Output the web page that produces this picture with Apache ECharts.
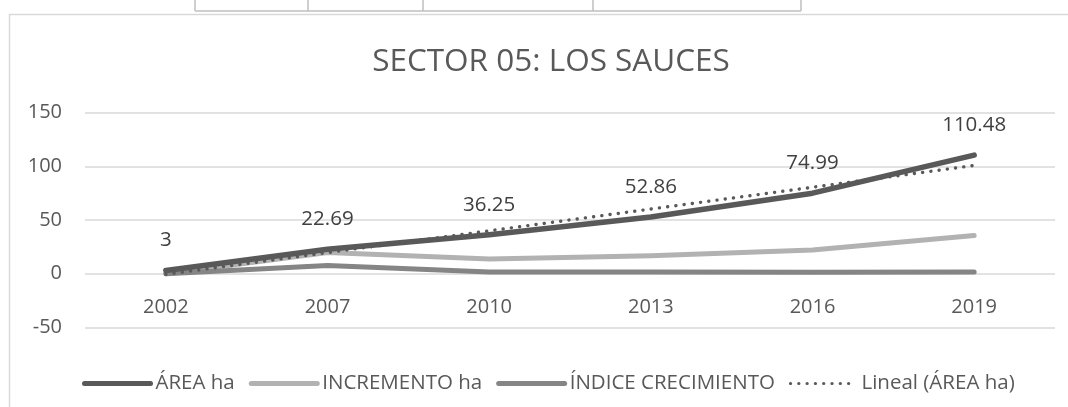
<!DOCTYPE html>
<html>
<head>
<meta charset="utf-8">
<script src="https://cdn.jsdelivr.net/npm/echarts@6/dist/echarts.min.js"></script>
<style>
html,body{margin:0;padding:0;background:#fff;}
#c{width:1068px;height:407px;}
</style>
</head>
<body>
<div id="c"></div>
<script>
const categories = ['2002', '2007', '2010', '2013', '2016', '2019'];
const areaHa = [3, 22.69, 36.25, 52.86, 74.99, 110.48];
const incrementoHa = [0, 19.69, 13.56, 16.61, 22.13, 35.49];
const indiceCrecimiento = [0, 7.56, 1.6, 1.46, 1.42, 1.47];
const linealArea = [-0.7, 19.6, 39.9, 60.2, 80.5, 100.8];
const seriesNames = ['ÁREA ha', 'INCREMENTO ha', 'ÍNDICE CRECIMIENTO', 'Lineal (ÁREA ha)'];
const yTicks = { min: -50, max: 150, interval: 50 };
const titleText = 'SECTOR 05: LOS SAUCES';

const FONT = 'Open Sans';
const chart = echarts.init(document.getElementById('c'));
const tableX = [195, 308, 423, 593, 801];
const graphics = [
  { type: 'rect', shape: { x: 9.5, y: 14.5, width: 1100, height: 450 }, style: { fill: 'none', stroke: '#d9d9d9', lineWidth: 1.5 }, silent: true },
  { type: 'line', shape: { x1: 195, y1: 11, x2: 801, y2: 11 }, style: { stroke: '#bfbfbf', lineWidth: 1.5 }, silent: true }
];
tableX.forEach(x => graphics.push({ type: 'line', shape: { x1: x, y1: 0, x2: x, y2: 11 }, style: { stroke: '#bfbfbf', lineWidth: 1.5 }, silent: true }));

const noSym = 'rgba(0,0,0,0)';
const solidLegend = { width: 5, cap: 'round' };
chart.setOption({
  animation: false,
  backgroundColor: '#fff',
  graphic: graphics,
  title: {
    text: titleText,
    left: 546, top: 41, textAlign: 'center',
    textStyle: { fontFamily: FONT, fontSize: 31.5, fontWeight: 'normal', color: '#595959' }
  },
  legend: {
    data: [
      { name: seriesNames[0], lineStyle: solidLegend },
      { name: seriesNames[1], lineStyle: solidLegend },
      { name: seriesNames[2], lineStyle: solidLegend },
      { name: seriesNames[3], lineStyle: { width: 3.2, cap: 'round', type: [0.1, 8.2] } }
    ],
    left: 77, top: 368,
    itemWidth: 66, itemHeight: 14, itemGap: 14,
    itemStyle: { color: noSym, borderWidth: 0 },
    textStyle: { fontFamily: FONT, fontSize: 20.5, color: '#595959' }
  },
  grid: { left: 85, right: 13, top: 112.7, bottom: 79.7, containLabel: false },
  xAxis: {
    type: 'category', data: categories, boundaryGap: true,
    axisLine: { show: false, onZero: false },
    axisTick: { show: false },
    axisLabel: { fontFamily: FONT, fontSize: 20, color: '#595959', margin: -30 },
    splitLine: { show: false }
  },
  yAxis: {
    type: 'value', min: yTicks.min, max: yTicks.max, interval: yTicks.interval,
    axisLine: { show: false }, axisTick: { show: false },
    axisLabel: { fontFamily: FONT, fontSize: 20, color: '#595959', margin: 23 },
    splitLine: { lineStyle: { color: '#d9d9d9', width: 1.5 } }
  },
  series: [
    {
      name: seriesNames[0], type: 'line', data: areaHa, z: 4,
      symbol: 'circle', symbolSize: 1, showSymbol: true,
      lineStyle: { color: '#595959', width: 5.5, cap: 'round', join: 'round' },
      itemStyle: { color: noSym },
      label: { show: true, position: 'top', distance: 19, fontFamily: FONT, fontSize: 20.5, color: '#404040' }
    },
    {
      name: seriesNames[1], type: 'line', data: incrementoHa, z: 2,
      symbol: 'none',
      lineStyle: { color: '#b2b2b2', width: 5, cap: 'round', join: 'round' },
      itemStyle: { color: noSym }
    },
    {
      name: seriesNames[2], type: 'line', data: indiceCrecimiento, z: 3,
      symbol: 'none',
      lineStyle: { color: '#858585', width: 5, cap: 'round', join: 'round' },
      itemStyle: { color: noSym }
    },
    {
      name: seriesNames[3], type: 'line', data: linealArea, z: 5,
      symbol: 'none',
      lineStyle: { color: '#595959', width: 3.4, type: [0.1, 8.2], cap: 'round' },
      itemStyle: { color: noSym }
    }
  ]
});
</script>
</body>
</html>
